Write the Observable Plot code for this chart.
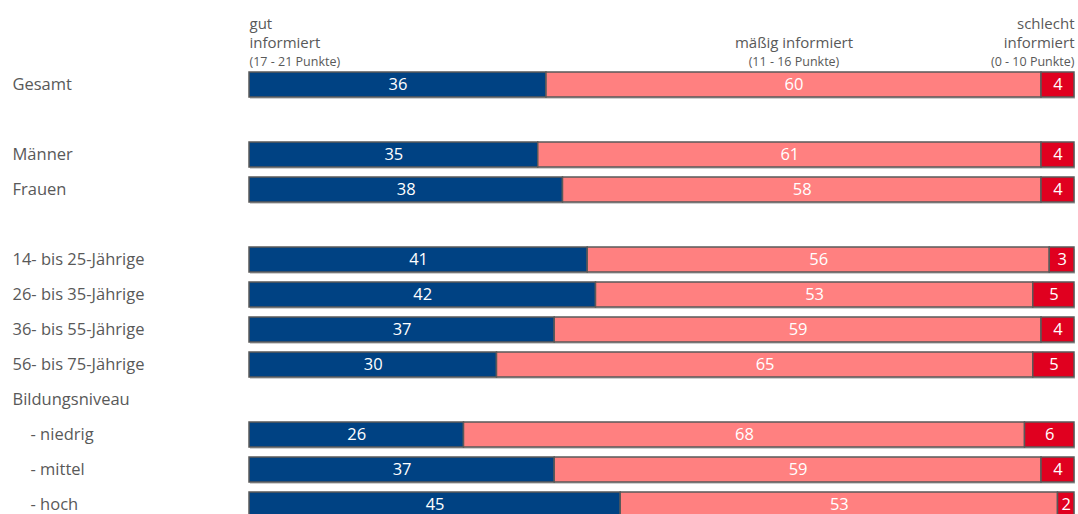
<!DOCTYPE html>
<html>
<head>
<meta charset="utf-8">
<script src="https://cdn.jsdelivr.net/npm/d3@7"></script>
<script src="https://cdn.jsdelivr.net/npm/@observablehq/plot@0.6"></script>
<style>
  html, body { margin: 0; padding: 0; background: #fff; }
  #chart svg { display: block; }
</style>
</head>
<body>
<div id="chart"></div>
<script>
// ---- data ----
const rows = ["Gesamt", "_gap1", "Männer", "Frauen", "_gap2",
  "14- bis 25-Jährige", "26- bis 35-Jährige", "36- bis 55-Jährige", "56- bis 75-Jährige",
  "Bildungsniveau", "- niedrig", "- mittel", "- hoch"];
const barRows = ["Gesamt", "Männer", "Frauen",
  "14- bis 25-Jährige", "26- bis 35-Jährige", "36- bis 55-Jährige", "56- bis 75-Jährige",
  "- niedrig", "- mittel", "- hoch"];
const series = ["gut informiert", "mäßig informiert", "schlecht informiert"];
const gut      = [36, 35, 38, 41, 42, 37, 30, 26, 37, 45];
const maessig  = [60, 61, 58, 56, 53, 59, 65, 68, 59, 53];
const schlecht = [ 4,  4,  4,  3,  5,  4,  5,  6,  4,  2];
const colors = ["#004283", "#ff8080", "#e0001f"];
const headerTitles = [["gut", "informiert"], ["mäßig informiert"], ["schlecht", "informiert"]];
const headerSubs = ["(17 - 21 Punkte)", "(11 - 16 Punkte)", "(0 - 10 Punkte)"];

// ---- tidy table ----
const cols = [gut, maessig, schlecht];
const data = [];
barRows.forEach((r, i) => series.forEach((s, j) => data.push({row: r, series: s, value: cols[j][i]})));

const mainLabels = rows.filter(r => !r.startsWith("_") && !r.startsWith("-"));
const subLabels = rows.filter(r => r.startsWith("-"));

// header anchors in value units (segment positions of the first row)
const headerX = [0, gut[0] + maessig[0] / 2, 100];
const headerAnchor = ["start", "middle", "end"];
const headerData = [];
headerTitles.forEach((lines, k) => {
  const n = lines.length;
  lines.forEach((t, li) => headerData.push({x: headerX[k], anchor: headerAnchor[k], text: t, line: li - n}));
});
const subData = headerSubs.map((t, k) => ({x: headerX[k], anchor: headerAnchor[k], text: t}));

const FONT = "Open Sans, sans-serif";
const gray = "#595959";

const marks = [
  // shadow
  Plot.barX(barRows, {x1: 0, x2: 100, y: d => d, fill: "#cfcfcf", dy: 2, dx: 1}),
  Plot.barX(data, Plot.stackX({x: "value", y: "row", fill: "series", order: series,
    stroke: gray, strokeWidth: 1.5})),
  Plot.text(data, Plot.stackX({x: "value", y: "row", z: "series", order: series, text: d => String(d.value),
    fill: "white", fontSize: 16.5, fontFamily: FONT, dy: 0})),
  Plot.text(mainLabels, {y: d => d, text: d => d, frameAnchor: "left", textAnchor: "start", dx: -237,
    fill: gray, fontSize: 16.5, fontFamily: FONT}),
  Plot.text(subLabels, {y: d => d, text: d => d, frameAnchor: "left", textAnchor: "start", dx: -219,
    fill: gray, fontSize: 16.5, fontFamily: FONT}),
];
// header lines
headerData.forEach(h => {
  marks.push(Plot.text([h], {x: "x", y: () => "Gesamt", text: "text", textAnchor: h.anchor,
    dy: -23 + h.line * 19, fill: gray, fontSize: 15, fontFamily: FONT}));
});
subData.forEach(h => {
  marks.push(Plot.text([h], {x: "x", y: () => "Gesamt", text: "text", textAnchor: h.anchor,
    dy: -23, fill: gray, fontSize: 12.5, fontFamily: FONT}));
});

const chart = Plot.plot({
  width: 1078,
  height: 514,
  marginLeft: 249,
  marginRight: 4,
  marginTop: 0,
  marginBottom: 0,
  style: {fontFamily: FONT, background: "white"},
  x: {domain: [0, 100], axis: null},
  y: {domain: rows, range: [70.5, 517.5], paddingInner: 0.29, paddingOuter: 0, axis: null},
  color: {domain: series, range: colors},
  marks
});
document.getElementById("chart").appendChild(chart);
</script>
</body>
</html>
